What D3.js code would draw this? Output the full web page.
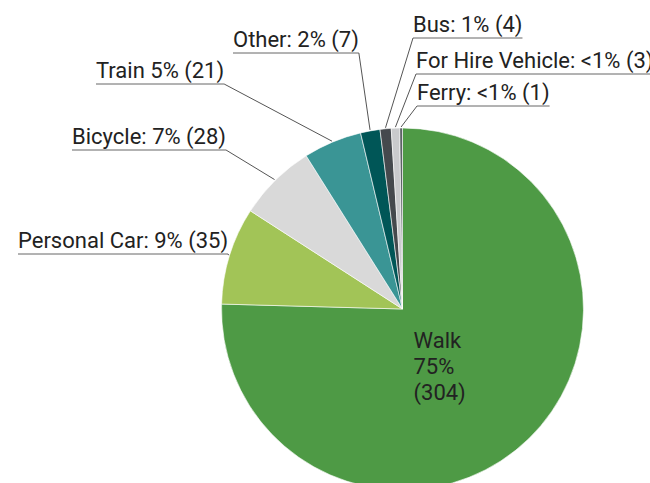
<!DOCTYPE html>
<html>
<head>
<meta charset="utf-8">
<script src="https://cdn.jsdelivr.net/npm/d3@7"></script>
<style>
  body { margin: 0; background: #fff; }
  text { font-family: Roboto, "Noto Sans", sans-serif; fill: #222; }
</style>
</head>
<body>
<div id="chart"></div>
<script>
// data
const modes = ['Walk', 'Personal Car', 'Bicycle', 'Train', 'Other', 'Bus', 'For Hire Vehicle', 'Ferry']
const counts = [304, 35, 28, 21, 7, 4, 3, 1]
const pctLabels = ['75%', '9%', '7%', '5%', '2%', '1%', '<1%', '<1%']
const colors = ['#4e9a45', '#a2c457', '#d9d9d9', '#3a9595', '#005657', '#45494d', '#c9cacc', '#5d6266']

// label layout (x, baseline y, side) for outside labels
const labelPos = {
    'Personal Car': [18, 248, 'left'],
    'Bicycle': [72, 144, 'left'],
    'Train': [96, 78, 'left'],
    'Other': [233, 47, 'left'],
    'Bus': [413, 32, 'right'],
    'For Hire Vehicle': [416, 68, 'right'],
    'Ferry': [417, 100, 'right'],
}

let dimensions = {
    width: 650,
    height: 483,
    cx: 402.5,
    cy: 309,
    radius: 181,
}

const svg = d3.select('#chart')
    .append('svg')
        .attr('width', dimensions.width)
        .attr('height', dimensions.height)

const data = modes.map((m, i) => ({mode: m, count: counts[i], pct: pctLabels[i], color: colors[i]}))

const pie = d3.pie()
    .sort(null)
    .value(d => d.count)

const arcs = pie(data)

const arc = d3.arc()
    .innerRadius(0)
    .outerRadius(dimensions.radius)

const edgeArc = d3.arc()
    .innerRadius(dimensions.radius + 1)
    .outerRadius(dimensions.radius + 1)

const pieGroup = svg.append('g')
    .attr('transform', `translate(${dimensions.cx}, ${dimensions.cy})`)

pieGroup.selectAll('path')
    .data(arcs)
    .join('path')
        .attr('d', arc)
        .attr('fill', d => d.data.color)
        .attr('stroke', '#fff')
        .attr('stroke-width', 0.6)

// outside labels with underline + leader
const labelGroup = svg.append('g')

arcs.forEach(d => {
    const pos = labelPos[d.data.mode]
    if (!pos) return
    const [x, y, side] = pos
    const sep = d.data.mode === 'Train' ? ' ' : ': '
    const t = labelGroup.append('text')
        .attr('x', x)
        .attr('y', y)
        .attr('font-size', 22)
        .text(`${d.data.mode}${sep}${d.data.pct} (${d.data.count})`)
    const w = t.node().getComputedTextLength()
    const uy = y + 6
    const [px, py] = edgeArc.centroid(d)
    const anchorX = side === 'left' ? x + w : x
    labelGroup.append('line')
        .attr('x1', x).attr('x2', x + w)
        .attr('y1', uy).attr('y2', uy)
        .attr('stroke', '#666')
        .attr('stroke-width', 1)
    labelGroup.append('line')
        .attr('x1', anchorX).attr('y1', uy)
        .attr('x2', dimensions.cx + px).attr('y2', dimensions.cy + py)
        .attr('stroke', '#555')
        .attr('stroke-width', 1)
})

// inside label for Walk
const walk = arcs[0]
const walkText = svg.append('text')
    .attr('font-size', 22)
    .attr('x', dimensions.cx + 11)
    .attr('y', dimensions.cy + 39)

;[walk.data.mode, walk.data.pct, `(${walk.data.count})`].forEach((s, i) => {
    walkText.append('tspan')
        .attr('x', dimensions.cx + 11)
        .attr('dy', i === 0 ? 0 : 26)
        .text(s)
})
</script>
</body>
</html>
